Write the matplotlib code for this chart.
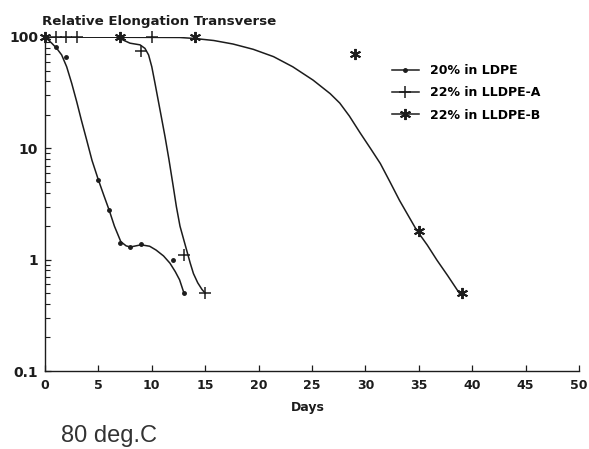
import matplotlib
matplotlib.use("Agg")
import matplotlib.pyplot as plt
from matplotlib.lines import Line2D
from matplotlib.ticker import LogLocator, FixedLocator, NullFormatter

# measured points (markers)
ldpe_days = [0, 1, 2, 5, 6, 7, 8, 9, 12, 13]
ldpe_vals = [100, 82, 66, 5.2, 2.8, 1.42, 1.29, 1.38, 1.0, 0.5]

llA_days = [1, 2, 3, 9, 10, 13, 15]
llA_vals = [100, 100, 100, 75, 100, 1.1, 0.5]

llB_days = [0, 7, 14, 29, 35, 39]
llB_vals = [100, 100, 100, 70, 1.8, 0.5]

# hand-drawn fit curves
ldpe_fit_x = [0, 0.63, 1.1, 1.56, 2.03, 2.5, 2.97, 3.4, 3.9, 4.4, 5.0, 5.5, 6.0,
              6.5, 7.1, 7.6, 8.0, 8.5, 9.0, 9.8, 10.4, 11.1, 11.7, 12.2, 12.6, 13.0]
ldpe_fit_y = [100, 88, 79, 69, 54, 38.4, 26.2, 18, 11.9, 7.8, 5.2, 3.8, 2.8,
              2.0, 1.45, 1.33, 1.3, 1.33, 1.36, 1.32, 1.22, 1.08, 0.93, 0.78, 0.66, 0.505]

llA_fit_x = [0, 6.9, 7.3, 7.96, 8.9, 9.36, 9.7, 10.0, 10.3, 10.6, 10.9, 11.24,
             11.6, 12.0, 12.3, 12.64, 13.0, 13.27, 13.6, 13.9, 14.3, 14.7, 15.0]
llA_fit_y = [100, 100, 94, 88, 85, 79, 69, 54, 38.4, 27, 19, 12.7,
             8.0, 4.6, 3.0, 2.0, 1.5, 1.21, 0.93, 0.75, 0.62, 0.54, 0.5]

llB_fit_x = [0, 12.6, 14, 15.8, 17.6, 19.5, 21.4, 23.2, 25.1, 26.7, 27.6, 28.5,
             29.5, 30.5, 31.4, 32.3, 33.2, 34.0, 34.8, 35.8, 36.7, 37.7, 38.8]
llB_fit_y = [100, 99, 97, 93, 86.5, 77.5, 66.6, 54, 41, 31, 25.5, 19.5,
             13.8, 9.9, 7.3, 5.0, 3.4, 2.5, 1.84, 1.35, 0.99, 0.72, 0.5]

labels = ["20% in LDPE", "22% in LLDPE-A", "22% in LLDPE-B"]
x_ticks = [0, 5, 10, 15, 20, 25, 30, 35, 40, 45, 50]
y_ticks = [0.1, 1, 10, 100]
y_ticklabels = ["0.1", "1", "10", "100"]

ink = "#1c1c1c"
star = (6, 2, 0)

fig = plt.figure(figsize=(5.89, 4.49), dpi=100)
ax = fig.add_axes([0.0764, 0.1737, 0.9066, 0.7439])

for fx, fy in [(ldpe_fit_x, ldpe_fit_y), (llA_fit_x, llA_fit_y), (llB_fit_x, llB_fit_y)]:
    ax.plot(fx, fy, color=ink, lw=1.1, solid_joinstyle="round")

ax.plot(ldpe_days, ldpe_vals, ls="none", marker="o", ms=2.5, color=ink, clip_on=False)
ax.plot(llA_days, llA_vals, ls="none", marker="+", ms=9, mew=1.1, color=ink, clip_on=False)
ax.plot(llB_days, llB_vals, ls="none", marker=star, ms=8, mew=1.4, color=ink, clip_on=False)

ax.set_yscale("log")
ax.set_xlim(0, 50)
ax.set_ylim(0.1, 100)
ax.xaxis.set_major_locator(FixedLocator(x_ticks))
ax.set_xticklabels([str(t) for t in x_ticks], fontsize=9, fontweight="bold", color=ink)
ax.yaxis.set_major_locator(FixedLocator(y_ticks))
ax.set_yticklabels(y_ticklabels, fontsize=10, fontweight="bold", color=ink)
ax.yaxis.set_minor_locator(LogLocator(base=10, subs=range(2, 10)))
ax.yaxis.set_minor_formatter(NullFormatter())
ax.tick_params(axis="both", which="major", direction="in", length=4, width=0.9, color=ink)
ax.tick_params(axis="y", which="minor", direction="in", length=3.5, width=0.8, color=ink)
ax.tick_params(axis="y", pad=5)
ax.tick_params(axis="x", pad=6)

for s in ["top", "right"]:
    ax.spines[s].set_visible(False)
for s in ["left", "bottom"]:
    ax.spines[s].set_color(ink)
    ax.spines[s].set_linewidth(1.0)

handles = [
    Line2D([], [], color=ink, lw=1.1, marker="o", ms=2.5),
    Line2D([], [], color=ink, lw=1.1, marker="+", ms=9, mew=1.1),
    Line2D([], [], color=ink, lw=1.1, marker=star, ms=8, mew=1.4),
]
ax.legend(handles, labels, loc="upper left", bbox_to_anchor=(0.628, 0.953),
          frameon=False, numpoints=1, handlelength=2.2, handletextpad=0.9,
          labelspacing=0.75, prop={"size": 9, "weight": "bold"})

fig.text(42 / 589, 1 - 22 / 449, "Relative Elongation Transverse", fontsize=9.6,
         fontweight="bold", color=ink, va="center", ha="left")
fig.text(308 / 589, 1 - 408 / 449, "Days", fontsize=9, fontweight="bold",
         color=ink, va="center", ha="center")
fig.text(61 / 589, 1 - 436 / 449, "80 deg.C", fontsize=17, color="#333333",
         family="Liberation Sans", va="center", ha="left")

fig.savefig("out.png", dpi=100)
